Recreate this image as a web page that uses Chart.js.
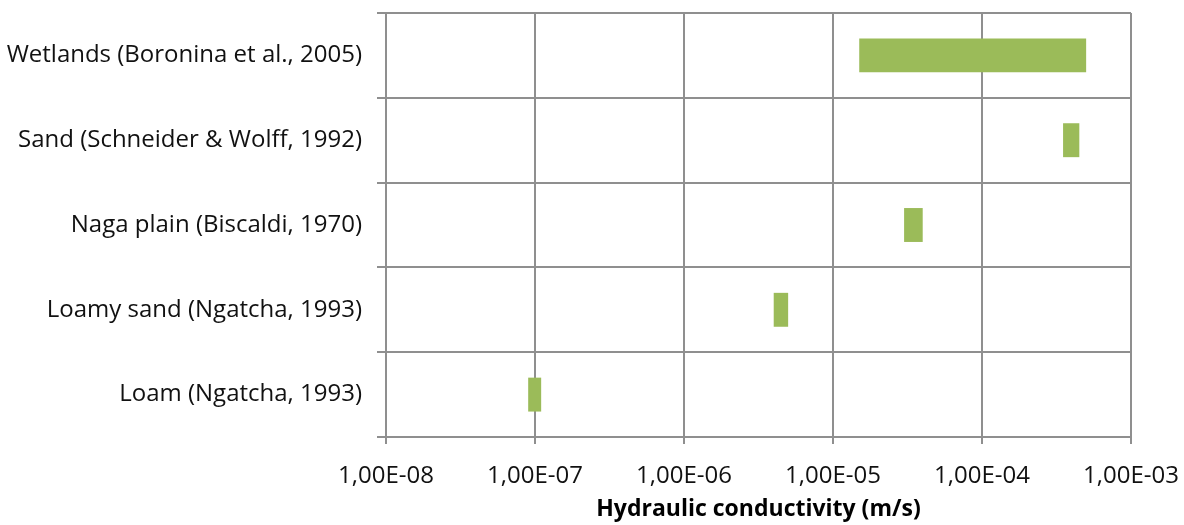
<!DOCTYPE html>
<html>
<head>
<meta charset="utf-8">
<title>Hydraulic conductivity</title>
<script src="https://cdn.jsdelivr.net/npm/chart.js@4.4.1/dist/chart.umd.min.js"></script>
<style>
    html, body { margin: 0; padding: 0; background: #fff; }
    #wrap { width: 1184px; height: 525px; }
</style>
</head>
<body>
<div id="wrap"><canvas id="kChart" width="1184" height="525"></canvas></div>
<script>
// Categories, top to bottom
const categories = [
    'Wetlands (Boronina et al., 2005)',
    'Sand (Schneider & Wolff, 1992)',
    'Naga plain (Biscaldi, 1970)',
    'Loamy sand (Ngatcha, 1993)',
    'Loam (Ngatcha, 1993)'
];
// Range of hydraulic conductivity (m/s)
const kMin = [1.5e-5, 3.5e-4, 3.0e-5, 4.0e-6, 9.0e-8];
const kMax = [5.0e-4, 4.5e-4, 4.0e-5, 5.0e-6, 1.1e-7];

const tickValues = [1e-8, 1e-7, 1e-6, 1e-5, 1e-4, 1e-3];
const tickLabels = ['1,00E-08', '1,00E-07', '1,00E-06', '1,00E-05', '1,00E-04', '1,00E-03'];

const gridColor = '#8f8f8f';
const labelFont = { family: 'Open Sans', size: 24 };

const ctx = document.getElementById('kChart').getContext('2d');
const kChart = new Chart(ctx, {
    type: 'bar',
    data: {
        labels: categories,
        datasets: [{
            label: 'Hydraulic conductivity',
            data: kMin.map((v, i) => [v, kMax[i]]),
            backgroundColor: '#9bbb59',
            borderWidth: 0,
            borderSkipped: false,
            categoryPercentage: 1,
            barPercentage: 0.4
        }]
    },
    options: {
        indexAxis: 'y',
        responsive: false,
        animation: false,
        devicePixelRatio: 1,
        layout: { padding: { top: 13, right: 53, left: 0, bottom: 0 } },
        scales: {
            x: {
                type: 'logarithmic',
                min: 1e-8,
                max: 1e-3,
                afterBuildTicks: (scale) => {
                    scale.ticks = tickValues.map(v => ({ value: v }));
                },
                afterFit: (scale) => {
                    scale.height = 88;
                    scale.paddingLeft = 0;
                    scale.paddingRight = 0;
                },
                grid: {
                    color: gridColor,
                    lineWidth: 2,
                    tickLength: 7,
                    drawTicks: true
                },
                border: { color: gridColor, width: 2 },
                ticks: {
                    color: '#111',
                    font: labelFont,
                    padding: 18,
                    maxRotation: 0,
                    autoSkip: false,
                    callback: (value) => {
                        const i = tickValues.findIndex(t => Math.abs(Math.log10(t) - Math.log10(value)) < 1e-6);
                        return i >= 0 ? tickLabels[i] : '';
                    }
                },
                title: {
                    display: true,
                    text: 'Hydraulic conductivity (m/s)',
                    color: '#000',
                    font: { family: 'Open Sans', size: 23, weight: 'bold' },
                    padding: { top: 2, bottom: 2 }
                }
            },
            y: {
                afterFit: (scale) => {
                    scale.width = 386;
                    scale.paddingTop = 0;
                    scale.paddingBottom = 0;
                },
                grid: {
                    color: gridColor,
                    lineWidth: 2,
                    tickLength: 9,
                    offset: true
                },
                border: { color: gridColor, width: 2 },
                ticks: {
                    color: '#111',
                    font: labelFont,
                    padding: 15
                }
            }
        },
        plugins: {
            legend: { display: false },
            tooltip: { enabled: false }
        }
    }
});
</script>
</body>
</html>
